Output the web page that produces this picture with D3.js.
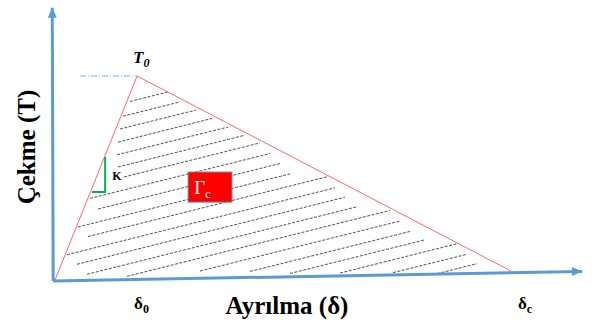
<!DOCTYPE html>
<html>
<head>
<meta charset="utf-8">
<script src="https://cdn.jsdelivr.net/npm/d3@7"></script>
<style>
  body { margin: 0; background: #fff; }
  svg { display: block; }
  svg text { font-family: "Liberation Serif", "DejaVu Serif", serif; }
</style>
</head>
<body>
<svg id="chart"></svg>
<script>
// Values (δ and T in relative units, 0..100)
const delta0 = 18;
const deltaC = 100;
const T0 = 100;
const tEnd = 4.4;

const triangle = [[0, 0], [delta0, T0], [deltaC, tEnd]];
const axisOrigin = [-0.4, -0.5];
const xAxisEnd = [115.6, 4.2];
const yAxisEnd = [-0.6, 133.5];
const peakGuide = [[5.5, T0], [delta0, T0]];
const slopeMarker = [[8.1, 43.1], [11, 43.1], [11, 60.3]];
const gammaBox = { d0: 29.2, d1: 38.8, t0: 38.2, t1: 52.9 };

// hatch segments: [δ start, T start, δ end, T end]
const hatchLines = [
  [16.45, 87.5, 24.78, 92.2],
  [14.91, 80.3, 27.41, 87.3],
  [14.25, 74.0, 30.92, 83.3],
  [13.82, 67.6, 34.43, 79.2],
  [13.6, 61.4, 37.94, 75.0],
  [13.82, 55.4, 41.67, 71.0],
  [15.13, 50.5, 44.96, 67.2],
  [7.68, 40.0, 47.15, 62.0],
  [9.43, 34.8, 49.34, 57.1],
  [5.04, 26.0, 51.54, 52.0],
  [7.24, 21.3, 59.65, 50.6],
  [2.63, 12.4, 61.4, 45.2],
  [4.82, 7.7, 63.6, 40.6],
  [7.02, 2.8, 66.23, 35.9],
  [15.79, 1.8, 73.46, 34.1],
  [31.8, 4.4, 75.66, 28.9],
  [42.76, 4.2, 77.85, 23.8],
  [51.54, 3.2, 81.14, 19.7],
  [62.5, 3.4, 88.16, 17.8],
  [74.12, 3.6, 90.35, 12.6],
  [83.77, 3.1, 92.54, 8.0],
];

const xTickLabels = [
  { value: delta0, sub: "0" },
  { value: deltaC, sub: "c" },
];
const xTitle = "Ayrılma (δ)";
const yTitle = "Çekme (T)";

const dimensions = { width: 592, height: 323 };
const axisColor = "#5b9bd5";

const svg = d3
  .select("#chart")
  .attr("width", dimensions.width)
  .attr("height", dimensions.height);

// Create scales
const xScale = d3.scaleLinear().domain([0, 100]).range([55, 511]);
const yScale = d3.scaleLinear().domain([0, 100]).range([280, 76]);

const defs = svg.append("defs");
defs
  .append("marker")
  .attr("id", "arrow")
  .attr("markerUnits", "userSpaceOnUse")
  .attr("viewBox", "0 0 10 10")
  .attr("refX", 10)
  .attr("refY", 5)
  .attr("markerWidth", 10)
  .attr("markerHeight", 10)
  .attr("orient", "auto")
  .append("path")
  .attr("d", "M0,0.5 L10,5 L0,9.5 Z")
  .attr("fill", axisColor);

// Hatching
svg
  .append("g")
  .selectAll("line")
  .data(hatchLines)
  .join("line")
  .attr("x1", (d) => xScale(d[0]))
  .attr("y1", (d) => yScale(d[1]))
  .attr("x2", (d) => xScale(d[2]))
  .attr("y2", (d) => yScale(d[3]))
  .attr("stroke", "#333")
  .attr("stroke-width", 1)
  .attr("stroke-dasharray", "3,1.5")
  .attr("opacity", 0.85);

// Traction-separation triangle
const line = d3
  .line()
  .x((d) => xScale(d[0]))
  .y((d) => yScale(d[1]));

svg
  .append("path")
  .attr("d", line(triangle))
  .attr("fill", "none")
  .attr("stroke", "#ff4d4d")
  .attr("stroke-width", 1)
  .attr("opacity", 0.85);

svg
  .append("path")
  .attr("d", line(peakGuide))
  .attr("fill", "none")
  .attr("stroke", axisColor)
  .attr("stroke-width", 1)
  .attr("stroke-dasharray", "6,2,1,2")
  .attr("opacity", 0.8);

// slope marker
svg
  .append("path")
  .attr("d", line(slopeMarker))
  .attr("fill", "none")
  .attr("stroke", "#00b050")
  .attr("stroke-width", 2);

// Axes
svg
  .append("g")
  .selectAll("line")
  .data([xAxisEnd, yAxisEnd])
  .join("line")
  .attr("x1", xScale(axisOrigin[0]))
  .attr("y1", yScale(axisOrigin[1]))
  .attr("x2", (d) => xScale(d[0]))
  .attr("y2", (d) => yScale(d[1]))
  .attr("stroke", axisColor)
  .attr("stroke-width", 3)
  .attr("marker-end", "url(#arrow)");

// Gamma_c box
svg
  .append("rect")
  .attr("x", xScale(gammaBox.d0))
  .attr("y", yScale(gammaBox.t1))
  .attr("width", xScale(gammaBox.d1) - xScale(gammaBox.d0))
  .attr("height", yScale(gammaBox.t0) - yScale(gammaBox.t1))
  .attr("fill", "#ff0000")
  .attr("stroke", "#6b7d99")
  .attr("stroke-width", 1);

const gammaText = svg
  .append("text")
  .attr("x", xScale(gammaBox.d0) + 6)
  .attr("y", yScale(gammaBox.t0) - 8)
  .attr("fill", "#fff")
  .style("font-size", "19px");
gammaText.append("tspan").text("Γ");
gammaText
  .append("tspan")
  .attr("dy", 4)
  .style("font-size", "12px")
  .text("c");

// K label
svg
  .append("text")
  .attr("x", xScale(slopeMarker[1][0]) + 7)
  .attr("y", yScale(slopeMarker[1][1]) - 12)
  .style("font-size", "12px")
  .style("font-weight", "bold")
  .text("K");

// T0 label
const tLabel = svg
  .append("text")
  .attr("x", xScale(delta0) - 4)
  .attr("y", yScale(T0) - 13)
  .style("font-size", "17px")
  .style("font-weight", "bold")
  .style("font-style", "italic");
tLabel.append("tspan").text("T");
tLabel
  .append("tspan")
  .attr("dy", 4)
  .style("font-size", "12px")
  .text("0");

// δ tick labels
const ticks = svg
  .append("g")
  .selectAll("text")
  .data(xTickLabels)
  .join("text")
  .attr("x", (d) => xScale(d.value) + (d.sub === "0" ? -3 : 7))
  .attr("y", 309)
  .style("font-size", "17px")
  .style("font-weight", "bold");
ticks.append("tspan").text("δ");
ticks
  .append("tspan")
  .attr("dy", 4)
  .style("font-size", "12px")
  .text((d) => d.sub);

// Axis titles
svg
  .append("text")
  .attr("x", 287)
  .attr("y", 314)
  .attr("text-anchor", "middle")
  .style("font-size", "25px")
  .style("font-weight", "bold")
  .text(xTitle);

svg
  .append("text")
  .attr("transform", "translate(35,147) rotate(-90)")
  .attr("text-anchor", "middle")
  .style("font-size", "25px")
  .style("font-weight", "bold")
  .text(yTitle);
</script>
</body>
</html>
